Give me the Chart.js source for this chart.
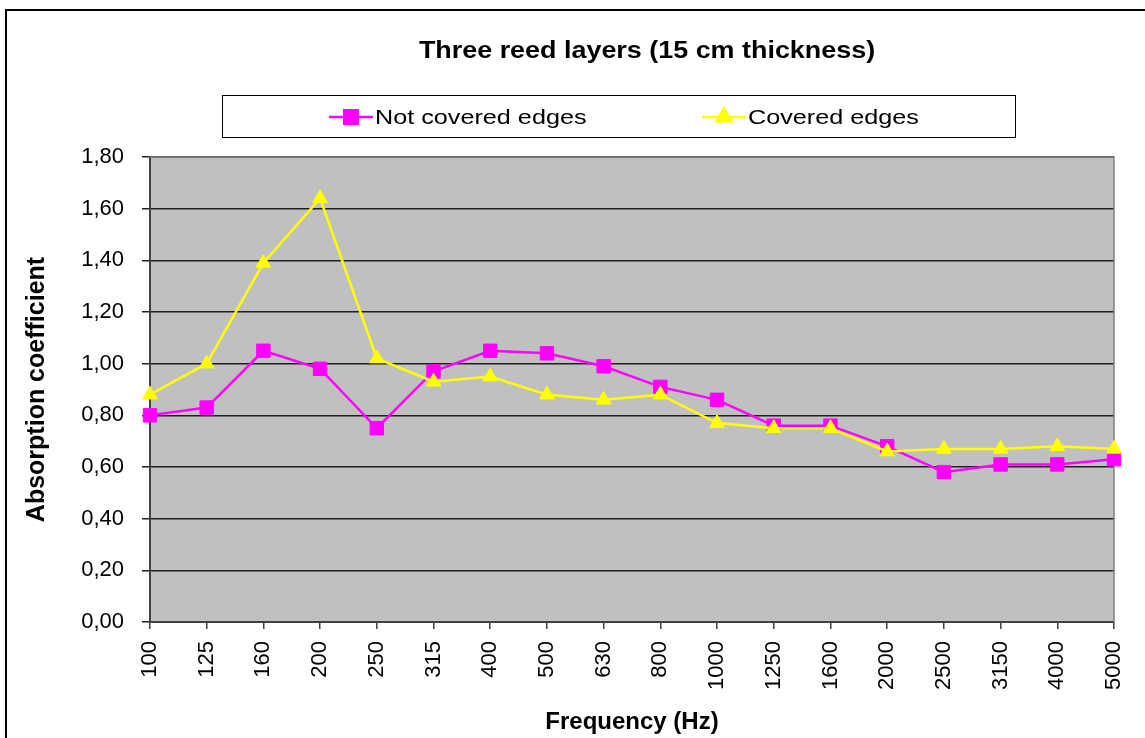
<!DOCTYPE html>
<html lang="en">
<head>
    <meta charset="UTF-8">
    <title>Three reed layers</title>
    <script src="https://cdn.jsdelivr.net/npm/chart.js"></script>
    <style>
        html, body { margin: 0; padding: 0; background: #fff; }
        #wrap { width: 1145px; height: 738px; }
    </style>
</head>
<body>
    <div id="wrap"><canvas id="absChart" width="1145" height="738"></canvas></div>

    <script>
        const chartTitle = 'Three reed layers (15 cm thickness)';
        const frequencies = ['100', '125', '160', '200', '250', '315', '400', '500', '630', '800',
                             '1000', '1250', '1600', '2000', '2500', '3150', '4000', '5000'];
        const notCovered = [0.80, 0.83, 1.05, 0.98, 0.75, 0.97, 1.05, 1.04, 0.99, 0.91,
                            0.86, 0.76, 0.76, 0.68, 0.58, 0.61, 0.61, 0.63];
        const covered = [0.88, 1.00, 1.39, 1.64, 1.02, 0.93, 0.95, 0.88, 0.86, 0.88,
                         0.77, 0.75, 0.75, 0.66, 0.67, 0.67, 0.68, 0.67];
        const yTicks = [0, 0.2, 0.4, 0.6, 0.8, 1.0, 1.2, 1.4, 1.6, 1.8];

        const FONT = "'Liberation Sans', Arial, sans-serif";

        // text a bit wider than the font, like the stretched Excel picture
        function wideText(c, text, x, y, sx, align) {
            c.save();
            c.translate(x, y);
            c.scale(sx, 1);
            c.textAlign = align;
            c.fillText(text, 0, 0);
            c.restore();
        }

        // plot background, frame, title and legend box (Excel look)
        const excelLook = {
            id: 'excelLook',
            beforeDraw(chart) {
                const c = chart.ctx, a = chart.chartArea;
                c.save();
                c.fillStyle = '#fff';
                c.fillRect(0, 0, chart.width, chart.height);
                c.fillStyle = '#c0c0c0';
                c.fillRect(a.left, a.top, a.right - a.left, a.bottom - a.top);
                c.restore();
            },
            beforeDatasetsDraw(chart) {
                const c = chart.ctx, a = chart.chartArea;
                c.save();
                c.strokeStyle = '#808080';
                c.lineWidth = 1.5;
                c.beginPath();
                c.moveTo(a.left, a.top);
                c.lineTo(a.right, a.top);
                c.lineTo(a.right, a.bottom);
                c.stroke();
                c.restore();
            },
            afterDraw(chart) {
                const c = chart.ctx;
                c.save();
                // outer frame (cut at right and bottom)
                c.strokeStyle = '#000';
                c.lineWidth = 2;
                c.beginPath();
                c.moveTo(6, chart.height);
                c.lineTo(6, 10);
                c.lineTo(chart.width, 10);
                c.stroke();

                // title
                c.fillStyle = '#000';
                c.font = 'bold 23px ' + FONT;
                c.textBaseline = 'middle';
                wideText(c, chartTitle, 647, 52, 1.17, 'center');

                // legend box
                c.lineWidth = 1;
                c.strokeStyle = '#000';
                c.strokeRect(222.5, 95.5, 793, 42);
                const items = [{ x: 329 }, { x: 702 }];
                c.font = '21px ' + FONT;
                chart.data.datasets.forEach((ds, i) => {
                    const x0 = items[i].x, y = 117;
                    c.strokeStyle = ds.borderColor;
                    c.lineWidth = 2.5;
                    c.beginPath();
                    c.moveTo(x0, y);
                    c.lineTo(x0 + 44, y);
                    c.stroke();
                    Chart.helpers.drawPoint(c, {
                        pointStyle: ds.pointStyle,
                        radius: ds.pointRadius,
                        rotation: 0,
                        borderWidth: 1
                    }, x0 + 22, y);
                    c.fillStyle = ds.backgroundColor;
                    c.fill();
                    c.fillStyle = '#000';
                    wideText(c, ds.label, x0 + 46, y + 1, 1.2, 'left');
                });
                c.restore();
            }
        };

        const ctx = document.getElementById('absChart').getContext('2d');
        const absChart = new Chart(ctx, {
            type: 'line',
            data: {
                labels: frequencies,
                datasets: [{
                    label: 'Not covered edges',
                    data: notCovered,
                    borderColor: '#ff00ff',
                    backgroundColor: '#ff00ff',
                    borderWidth: 2.5,
                    pointStyle: 'rect',
                    pointRadius: 9.5,
                    pointBorderWidth: 1,
                    tension: 0,
                    order: 1
                }, {
                    label: 'Covered edges',
                    data: covered,
                    borderColor: '#ffff00',
                    backgroundColor: '#ffff00',
                    borderWidth: 2.5,
                    pointStyle: 'triangle',
                    pointRadius: 8.5,
                    pointBorderWidth: 1,
                    tension: 0,
                    order: 0
                }]
            },
            options: {
                responsive: false,
                animation: false,
                layout: { padding: { top: 157, right: 31, left: 0, bottom: 0 } },
                plugins: {
                    legend: { display: false },
                    title: { display: false },
                    tooltip: { enabled: false }
                },
                scales: {
                    x: {
                        offset: false,
                        afterFit(s) { s.height = 116; s.paddingLeft = 0; s.paddingRight = 0; },
                        grid: { drawOnChartArea: false, drawTicks: true, tickLength: 7, color: '#404040', lineWidth: 1.5 },
                        border: { display: true, color: '#404040', width: 2 },
                        ticks: {
                            autoSkip: false, minRotation: 90, maxRotation: 90, padding: 12,
                            color: '#000', font: { family: FONT, size: 22 }
                        },
                        title: {
                            display: true, text: 'Frequency (Hz)', color: '#000',
                            font: { family: FONT, size: 24, weight: 'bold' },
                            padding: { top: 0, bottom: 1 }
                        }
                    },
                    y: {
                        min: 0, max: 1.8,
                        afterFit(s) { s.width = 150; s.paddingTop = 0; s.paddingBottom = 0; },
                        afterBuildTicks(s) { s.ticks = yTicks.map(v => ({ value: v })); },
                        grid: { color: '#202020', lineWidth: 1.5, tickLength: 8 },
                        border: { display: true, color: '#404040', width: 2 },
                        ticks: {
                            padding: 18, color: '#000',
                            font: { family: FONT, size: 22 },
                            callback: v => v.toFixed(2).replace('.', ',')
                        },
                        title: {
                            display: true, text: 'Absorption coefficient', color: '#000',
                            font: { family: FONT, size: 25, weight: 'bold' },
                            padding: { top: 22, bottom: 0 }
                        }
                    }
                }
            },
            plugins: [excelLook]
        });
    </script>
</body>
</html>
